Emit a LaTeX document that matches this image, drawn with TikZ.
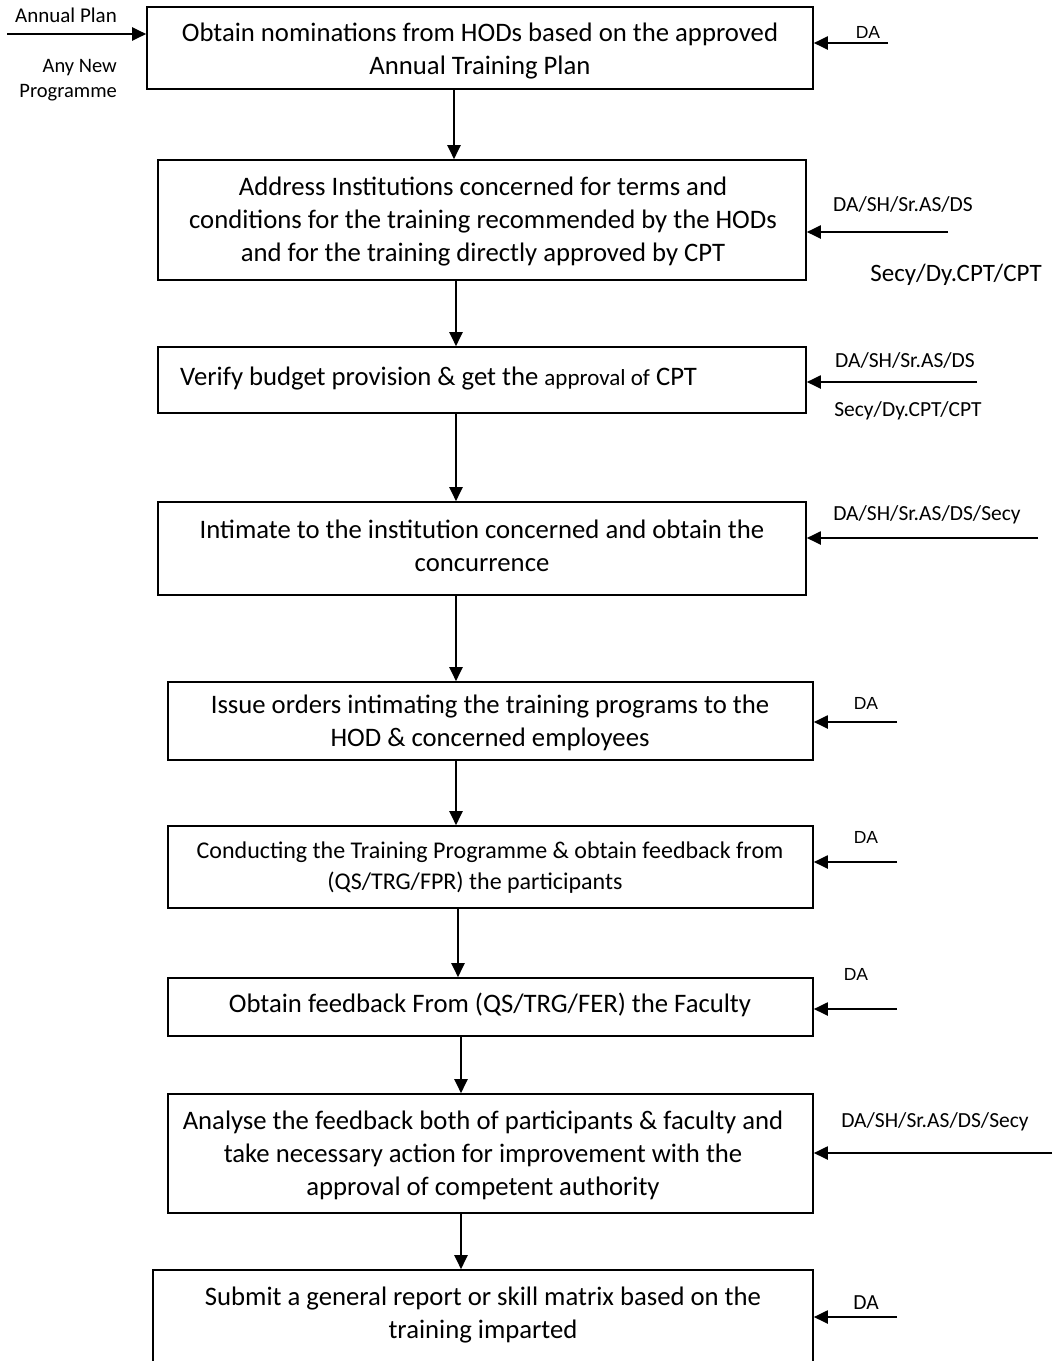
\documentclass[tikz,border=0pt]{standalone}
\usepackage{fontspec}
\setmainfont{Carlito}
\newfontfamily\lblfont{Liberation Sans}
\usetikzlibrary{arrows.meta}
\begin{document}
\begin{tikzpicture}[x=1pt,y=-1pt,
  box/.style={draw, line width=1.6pt, inner sep=0pt},
  flow/.style={line width=2pt, -{Triangle[length=14pt,width=13pt]}},
  body/.style={font=\fontsize{26.7}{33}\selectfont, align=center, inner sep=0pt},
  smallbody/.style={font=\fontsize{24}{31}\selectfont, align=center, inner sep=0pt},
  who/.style={font=\fontsize{21.5}{25}\selectfont, inner sep=0pt},
  da/.style={font=\lblfont\fontsize{17.5}{20}\selectfont, inner sep=0pt}]
\useasboundingbox (0,0) rectangle (1053,1361);
\clip (0,0) rectangle (1053,1361);

% process boxes
\node[box, minimum width=666pt, minimum height=82pt]  (b1) at (480,48) {};
\node[box, minimum width=648pt, minimum height=120pt] (b2) at (482,220) {};
\node[box, minimum width=648pt, minimum height=66pt]  (b3) at (482,380) {};
\node[box, minimum width=648pt, minimum height=93pt]  (b4) at (482,548.5) {};
\node[box, minimum width=645pt, minimum height=78pt]  (b5) at (490.5,721) {};
\node[box, minimum width=645pt, minimum height=82pt]  (b6) at (490.5,867) {};
\node[box, minimum width=645pt, minimum height=58pt]  (b7) at (490.5,1007) {};
\node[box, minimum width=645pt, minimum height=119pt] (b8) at (490.5,1153.5) {};
\node[box, minimum width=660pt, minimum height=140pt] (b9) at (483,1340) {};

% box texts
\node[body] (t1) at (480,51) {Obtain nominations from HODs based on the approved\\Annual Training Plan};
\node[body] (t2) at (483,222) {Address Institutions concerned for terms and\\conditions for the training recommended by the HODs\\and for the training directly approved by CPT};
\node[body, anchor=west] (t3) at (180,379) {Verify budget provision \& get the {\fontsize{23}{26}\selectfont approval of} CPT};
\node[body] (t4) at (482,546) {Intimate to the institution concerned and obtain the\\concurrence};
\node[body] (t5) at (490,723) {Issue orders intimating the training programs to the\\HOD \& concerned employees};
\node[smallbody] (t6) at (490,868) {Conducting the Training Programme \& obtain feedback from\\(QS/TRG/FPR) the participants\hspace*{30pt}};
\node[body] (t7) at (490,1005) {Obtain feedback From (QS/TRG/FER) the Faculty};
\node[body] (t8) at (483,1155) {Analyse the feedback both of participants \& faculty and\\take necessary action for improvement with the\\approval of competent authority};
\node[body] (t9) at (483,1315) {Submit a general report or skill matrix based on the\\training imparted};

% main flow
\coordinate (v1) at (454,0);
\coordinate (v2) at (456,0);
\coordinate (v3) at (458,0);
\coordinate (v4) at (461,0);
\draw[flow] (b1.south -| v1) -- (b2.north -| v1);
\draw[flow] (b2.south -| v2) -- (b3.north -| v2);
\draw[flow] (b3.south -| v2) -- (b4.north -| v2);
\draw[flow] (b4.south -| v2) -- (b5.north -| v2);
\draw[flow] (b5.south -| v2) -- (b6.north -| v2);
\draw[flow] (b6.south -| v3) -- (b7.north -| v3);
\draw[flow] (b7.south -| v4) -- (b8.north -| v4);
\draw[flow] (b8.south -| v4) -- (b9.north -| v4);

% inputs on the left
\coordinate (in1) at (7,34);
\draw[flow] (in1) -- (in1 -| b1.west);
\node[who, font=\fontsize{21}{25}\selectfont] (annual) at (66,15) {Annual Plan};
\node[who, align=right, anchor=east, font=\fontsize{20.5}{25}\selectfont] (anynew) at (117,80) {Any New\\Programme};

% responsibilities on the right
\coordinate (r1) at (888,43);
\coordinate (r2) at (948,232);
\coordinate (r3) at (977,382);
\coordinate (r4) at (1038,538);
\coordinate (r5) at (897,722);
\coordinate (r6) at (897,862);
\coordinate (r7) at (897,1009);
\coordinate (r8) at (1052,1153);
\coordinate (r9) at (897,1317);
\draw[flow] (r1) -- (r1 -| b1.east);
\draw[flow] (r2) -- (r2 -| b2.east);
\draw[flow] (r3) -- (r3 -| b3.east);
\draw[flow] (r4) -- (r4 -| b4.east);
\draw[flow] (r5) -- (r5 -| b5.east);
\draw[flow] (r6) -- (r6 -| b6.east);
\draw[flow] (r7) -- (r7 -| b7.east);
\draw[flow] (r8) -- (r8 -| b8.east);
\draw[flow] (r9) -- (r9 -| b9.east);

\node[da] (w1) at (868,32) {DA};
\node[who] (w2a) at (903,204) {DA/SH/Sr.AS/DS};
\node[who, font=\fontsize{25}{30}\selectfont] (w2b) at (956,275) {Secy/Dy.CPT/CPT};
\node[who] (w3a) at (905,360) {DA/SH/Sr.AS/DS};
\node[who] (w3b) at (908,411) {Secy/Dy.CPT/CPT};
\node[who] (w4) at (927,515) {DA/SH/Sr.AS/DS/Secy};
\node[da] (w5) at (866,703) {DA};
\node[da] (w6) at (866,837) {DA};
\node[da] (w7) at (856,974) {DA};
\node[who] (w8) at (935,1122) {DA/SH/Sr.AS/DS/Secy};
\node[who] (w9) at (866,1303) {DA};
\end{tikzpicture}
\end{document}
